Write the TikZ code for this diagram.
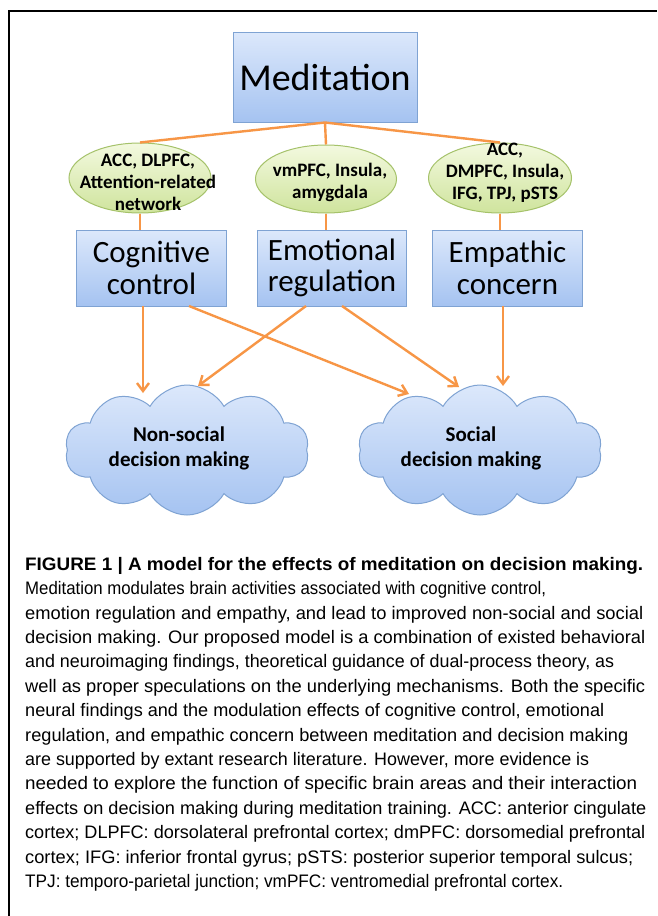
\documentclass[tikz,border=0pt]{standalone}
\usepackage{fontspec}
\usepackage{graphicx}
\setmainfont{Carlito}
\newfontfamily\capfont{Liberation Sans}
\usetikzlibrary{shapes.geometric,shapes.symbols,arrows.meta,calc}
\definecolor{orng}{HTML}{F79646}
\definecolor{boxtop}{HTML}{DCE8FB}
\definecolor{boxbot}{HTML}{A5C3F1}
\definecolor{boxline}{HTML}{7FA3D3}
\definecolor{elltop}{HTML}{F3F9DF}
\definecolor{ellbot}{HTML}{CFE49D}
\definecolor{ellline}{HTML}{A5C26A}
\newcommand{\capline}[2]{\resizebox{#1pt}{\height}{#2}}
\begin{document}
\begin{tikzpicture}[x=1pt,y=-1pt,
  bluebox/.style={rectangle, draw=boxline, line width=1pt, top color=boxtop, bottom color=boxbot, inner sep=0pt, align=center, font=\fontsize{31}{31.5}\selectfont},
  region/.style={ellipse, draw=ellline, line width=1pt, top color=elltop, bottom color=ellbot, inner sep=0pt},
  regtext/.style={align=center, font=\bfseries\fontsize{19}{22}\selectfont, inner sep=0pt},
  cloudnode/.style={cloud, cloud puffs=10, cloud puff arc=120, aspect=1.9, draw=boxline, line width=1pt, top color=boxtop, bottom color=boxbot, minimum width=244pt, minimum height=130pt, inner sep=0pt},
  cloudtext/.style={align=center, font=\bfseries\fontsize{21}{25}\selectfont, inner sep=0pt},
  link/.style={draw=orng, line width=2.4pt},
  arrow/.style={link, -{Straight Barb[length=8pt,width=12pt]}}
]
\useasboundingbox (0,0) rectangle (657,916);
\fill[white] (0,0) rectangle (657,916);
% frame
\draw[line width=2pt] (9,916) -- (9,11) -- (657,11);

% top box
\node[bluebox, minimum width=184pt, minimum height=90pt, font=\fontsize{38}{40}\selectfont] (med) at (325,77) {Meditation};

% ellipses
\node[region, minimum width=142pt, minimum height=70pt] (e1) at (140,178) {};
\node[region, minimum width=141pt, minimum height=68pt] (e2) at (326,179) {};
\node[region, minimum width=143pt, minimum height=70pt] (e3) at (500,178) {};
\node[regtext] (t1) at (148,182) {ACC, DLPFC,\\Attention-related\\network};
\node[regtext] (t2) at (330,182) {vmPFC, Insula,\\amygdala};
\node[regtext] (t3) at (505,173) {ACC,\\DMPFC, Insula,\\IFG, TPJ, pSTS};

% boxes
\node[bluebox, minimum width=150pt, minimum height=76pt] (b1) at (151.5,268) {Cognitive\\control};
\node[bluebox, minimum width=149pt, minimum height=76pt] (b2) at (332,268) {Emotional\\regulation};
\node[bluebox, minimum width=150pt, minimum height=76pt] (b3) at (507.5,268) {Empathic\\concern};

% clouds
\node[cloudnode] (c1) at (187,450) {};
\node[cloudnode] (c2) at (480,450) {};
\node[cloudtext] (ct1) at (179,448) {Non-social\\decision making};
\node[cloudtext] (ct2) at (471,448) {Social\\decision making};

% connectors top
\draw[link] (med.south) -- (e1.north);
\draw[link] (med.south) -- (e2.north);
\draw[link] (med.south) -- (e3.north);
\draw[link] (e1.south) -- (e1.south |- b1.north);
\draw[link] (e2.south) -- (e2.south |- b2.north);
\draw[link] (e3.south) -- (e3.south |- b3.north);

% arrow end points
\coordinate (s1) at (143,306);
\coordinate (s2) at (189,306);
\coordinate (s3) at (306,306);
\coordinate (s4) at (342,306);
\coordinate (s5) at (503,306);
\coordinate (a1) at (143,393);
\coordinate (a2) at (409,394);
\coordinate (a3) at (198,386);
\coordinate (a4) at (459,387);
\coordinate (a5) at (503,386);
\draw[arrow] (s1) -- (a1);
\draw[arrow] (s2) -- (a2);
\draw[arrow] (s3) -- (a3);
\draw[arrow] (s4) -- (a4);
\draw[arrow] (s5) -- (a5);

% caption
\node[anchor=base west, align=left, inner sep=0pt, font=\capfont\fontsize{18.1}{24.4}\selectfont] (cap) at (25,887.5) {%
\capline{618}{\textbf{FIGURE 1 | A model for the effects of meditation on decision making.}}\\
\capline{521}{Meditation modulates brain activities associated with cognitive control,}\\
\capline{618}{emotion regulation and empathy, and lead to improved non-social and social}\\
\capline{620}{decision making. Our proposed model is a combination of existed behavioral}\\
\capline{589}{and neuroimaging findings, theoretical guidance of dual-process theory, as}\\
\capline{620}{well as proper speculations on the underlying mechanisms. Both the specific}\\
\capline{579}{neural findings and the modulation effects of cognitive control, emotional}\\
\capline{603}{regulation, and empathic concern between meditation and decision making}\\
\capline{564}{are supported by extant research literature. However, more evidence is}\\
\capline{612}{needed to explore the function of specific brain areas and their interaction}\\
\capline{621}{effects on decision making during meditation training. ACC: anterior cingulate}\\
\capline{620}{cortex; DLPFC: dorsolateral prefrontal cortex; dmPFC: dorsomedial prefrontal}\\
\capline{608}{cortex; IFG: inferior frontal gyrus; pSTS: posterior superior temporal sulcus;}\\
\capline{538}{TPJ: temporo-parietal junction; vmPFC: ventromedial prefrontal cortex.}};
\end{tikzpicture}
\end{document}
